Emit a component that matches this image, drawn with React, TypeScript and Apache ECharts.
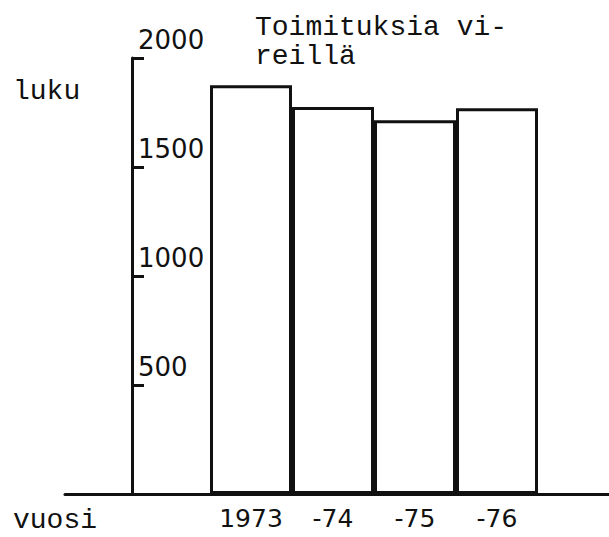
import React, { useEffect, useRef } from "react";
import * as echarts from "echarts";

const categories = ["1973", "-74", "-75", "-76"];
const values = [1875, 1775, 1715, 1770];
const yMin = 0;
const yMax = 2000;
const yStep = 500;
const titleText = "Toimituksia vi-\nreillä";
const yName = "luku";
const xName = "vuosi";

const MONO = "'Liberation Mono', 'DejaVu Sans Mono', monospace";
const NUM = "'DejaVu Sans', sans-serif";
const INK = "#111";

export default function App() {
  const ref = useRef<HTMLDivElement>(null);
  useEffect(() => {
    if (!ref.current) return;
    const chart = echarts.init(ref.current, null, { renderer: "svg" });
    chart.setOption({
      animation: false,
      backgroundColor: "#fff",
      title: [
        {
          text: titleText,
          left: 250,
          top: 8,
          textStyle: { fontFamily: MONO, fontSize: 28, fontWeight: "normal", color: INK, lineHeight: 29 },
        },
        {
          text: yName,
          left: 8,
          top: 72,
          textStyle: { fontFamily: MONO, fontSize: 28, fontWeight: "normal", color: INK },
        },
        {
          text: xName,
          left: 8,
          top: 500,
          textStyle: { fontFamily: MONO, fontSize: 28, fontWeight: "normal", color: INK, lineHeight: 30 },
        },
      ],
      grid: [
        { left: 210, right: 71, top: 58, bottom: 43 },
        { left: 65, right: 0, top: 58, bottom: 43 },
      ],
      xAxis: [
        {
          type: "category",
          gridIndex: 0,
          data: categories,
          axisLine: { show: false },
          axisTick: { show: false },
          axisLabel: { interval: 0, fontFamily: NUM, fontSize: 25, color: INK, margin: 12 },
        },
        {
          type: "value",
          gridIndex: 1,
          min: 0,
          max: 1,
          axisLine: { show: true, lineStyle: { color: INK, width: 3 } },
          axisTick: { show: false },
          axisLabel: { show: false },
          splitLine: { show: false },
        },
      ],
      yAxis: [
        {
          type: "value",
          gridIndex: 0,
          min: yMin,
          max: yMax,
          interval: yStep,
          offset: 78,
          axisLine: { show: true, lineStyle: { color: INK, width: 3 } },
          axisTick: { show: true, inside: true, length: 12, lineStyle: { color: INK, width: 3 } },
          axisLabel: {
            inside: true,
            verticalAlign: "bottom",
            margin: 6,
            padding: [0, 0, 5, 0],
            fontFamily: NUM,
            fontSize: 26,
            color: INK,
            showMinLabel: false,
            formatter: (v: number) => (v === 0 ? "" : String(v)),
          },
          splitLine: { show: false },
        },
        { type: "value", gridIndex: 1, show: false },
      ],
      series: [
        {
          type: "bar",
          xAxisIndex: 0,
          yAxisIndex: 0,
          data: values,
          barCategoryGap: "0%",
          itemStyle: { color: "#fff", borderColor: INK, borderWidth: 3 },
        },
      ],
    });
    return () => chart.dispose();
  }, []);
  return (
    <div
      ref={ref}
      style={{ position: "fixed", left: 0, top: 0, width: 609, height: 537, background: "#fff" }}
    />
  );
}
